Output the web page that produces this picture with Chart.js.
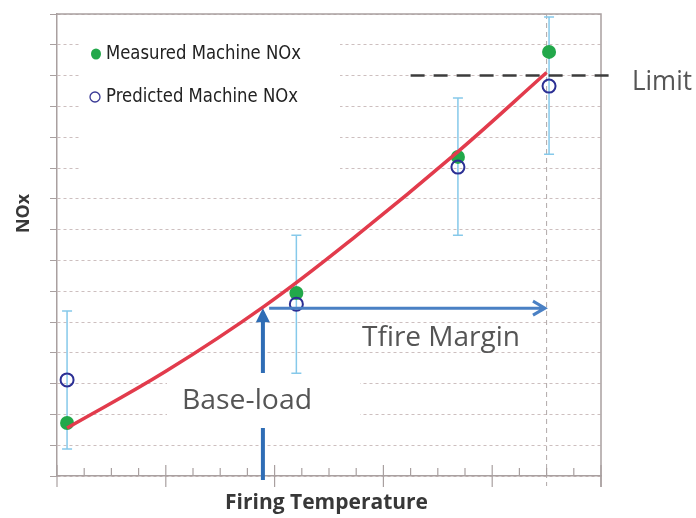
<!DOCTYPE html>
<html>
<head>
<meta charset="utf-8">
<script src="https://cdn.jsdelivr.net/npm/chart.js@4.4.1/dist/chart.umd.min.js"></script>
<style>
html, body { margin: 0; padding: 0; background: #fff; }
#wrap { width: 696px; height: 518px; }
</style>
</head>
<body>
<div id="wrap"><canvas id="myChart"></canvas></div>
<script>
// firing temperature positions (arbitrary units) of the four test points
const tempX = [0.37, 8.8, 14.74, 18.09];
const measured = [1.72, 5.94, 10.36, 13.77];
const predicted = [3.12, 5.58, 10.03, 12.66];
const errLow = [0.88, 3.34, 7.82, 10.45];
const errHigh = [5.36, 7.82, 12.27, 14.9];
// red NOx curve
const fitX = [0.37, 4, 7.6, 11, 14.7, 18];
const fitY = [1.56, 3.4, 5.5, 7.8, 10.5, 13.1];
// limit
const limitX = [13, 20.4];
const limitY = [13, 13];
const limitTemp = 18;

const textFont = '"Open Sans", "Noto Sans", sans-serif';

function pts(xs, ys) {
    return xs.map(function (x, i) { return {x: x, y: ys[i]}; });
}

// draw text left-aligned, squeezed/stretched to a given width
function fitText(ctx, text, x, y, width) {
    const w = ctx.measureText(text).width;
    ctx.save();
    ctx.translate(x, y);
    ctx.scale(width / w, 1);
    ctx.fillText(text, 0, 0);
    ctx.restore();
}

const behind = {
    id: 'behind',
    beforeDatasetsDraw(chart) {
        const ctx = chart.ctx;
        const xs = chart.scales.x, ys = chart.scales.y;
        const a = chart.chartArea;
        ctx.save();
        // white boxes under legend and base-load text
        ctx.fillStyle = '#ffffff';
        ctx.fillRect(80, 26, 260, 156);
        ctx.fillRect(167, 362, 193, 72);
        // frame top / right
        ctx.strokeStyle = '#a9a0a0';
        ctx.lineWidth = 1.5;
        ctx.beginPath();
        ctx.moveTo(a.left, a.top);
        ctx.lineTo(a.right, a.top);
        ctx.lineTo(a.right, a.bottom + 11);
        ctx.stroke();
        // limit temperature dashed vertical
        const lx = xs.getPixelForValue(limitTemp);
        ctx.strokeStyle = '#b0a8a8';
        ctx.lineWidth = 1;
        ctx.setLineDash([5, 4]);
        ctx.beginPath();
        ctx.moveTo(lx, a.top);
        ctx.lineTo(lx, a.bottom + 10);
        ctx.stroke();
        ctx.setLineDash([]);
        // error bars around predicted values
        ctx.strokeStyle = '#86c9ea';
        ctx.lineWidth = 1.5;
        for (let i = 0; i < tempX.length; i++) {
            const px = xs.getPixelForValue(tempX[i]);
            const y1 = ys.getPixelForValue(errLow[i]);
            const y2 = ys.getPixelForValue(errHigh[i]);
            ctx.beginPath();
            ctx.moveTo(px, y1); ctx.lineTo(px, y2);
            ctx.moveTo(px - 5, y1); ctx.lineTo(px + 5, y1);
            ctx.moveTo(px - 5, y2); ctx.lineTo(px + 5, y2);
            ctx.stroke();
        }
        ctx.restore();
    },
    afterDatasetsDraw(chart) {
        const ctx = chart.ctx;
        const xs = chart.scales.x, ys = chart.scales.y;
        const a = chart.chartArea;
        ctx.save();
        // x axis tick marks
        ctx.strokeStyle = '#a9a0a0';
        ctx.lineWidth = 1.2;
        for (let v = 0; v <= 20; v++) {
            const px = xs.getPixelForValue(v);
            ctx.beginPath();
            if (v % 4 === 0) {
                ctx.moveTo(px, a.bottom - 11); ctx.lineTo(px, a.bottom + 11);
            } else {
                ctx.moveTo(px, a.bottom - 8); ctx.lineTo(px, a.bottom);
            }
            ctx.stroke();
        }
        // base-load arrow
        ctx.strokeStyle = '#2f6db5';
        ctx.lineWidth = 4;
        const bx = xs.getPixelForValue(7.57);
        const tipY = ys.getPixelForValue(5.45);
        ctx.beginPath();
        ctx.moveTo(bx, a.bottom + 4); ctx.lineTo(bx, 428);
        ctx.moveTo(bx, 373); ctx.lineTo(bx, tipY + 4);
        ctx.stroke();
        ctx.fillStyle = '#2f6db5';
        ctx.beginPath();
        ctx.moveTo(bx - 7, tipY + 14);
        ctx.lineTo(bx, tipY);
        ctx.lineTo(bx + 7, tipY + 14);
        ctx.closePath();
        ctx.fill();
        // Tfire margin arrow
        ctx.strokeStyle = '#4a80c4';
        ctx.lineWidth = 3;
        const hy = ys.getPixelForValue(5.45);
        const hx1 = xs.getPixelForValue(7.8);
        const hx2 = xs.getPixelForValue(17.94);
        ctx.beginPath();
        ctx.moveTo(hx1, hy); ctx.lineTo(hx2 - 1, hy);
        ctx.moveTo(hx2 - 12, hy - 7); ctx.lineTo(hx2, hy); ctx.lineTo(hx2 - 12, hy + 7);
        ctx.stroke();
        // annotation texts
        ctx.fillStyle = '#555555';
        ctx.textBaseline = 'middle';
        ctx.textAlign = 'left';
        ctx.font = '28px ' + textFont;
        fitText(ctx, 'Base-load', 182, 401, 130);
        fitText(ctx, 'Tfire Margin', 362, 338, 158);
        fitText(ctx, 'Limit', 632, 82, 60);
        // legend
        ctx.font = '19.5px "Liberation Sans Narrow", "DejaVu Sans Condensed", sans-serif';
        ctx.fillStyle = '#222222';
        fitText(ctx, 'Measured Machine NOx', 106, 54, 195);
        fitText(ctx, 'Predicted Machine NOx', 106, 97, 192);
        ctx.fillStyle = '#22a84a';
        ctx.beginPath();
        ctx.ellipse(96, 54, 5, 5.5, 0, 0, Math.PI * 2);
        ctx.fill();
        ctx.strokeStyle = '#3a3a96';
        ctx.lineWidth = 1.3;
        ctx.beginPath();
        ctx.arc(95, 97, 5, 0, Math.PI * 2);
        ctx.stroke();
        // axis titles
        ctx.fillStyle = '#383838';
        ctx.font = 'bold 21px ' + textFont;
        fitText(ctx, 'Firing Temperature', 225, 503, 203);
        ctx.font = 'bold 18px ' + textFont;
        ctx.translate(24, 233);
        ctx.rotate(-Math.PI / 2);
        fitText(ctx, 'NOx', 0, 0, 39);
        ctx.restore();
    }
};

const ctx = document.getElementById('myChart').getContext('2d');
const myChart = new Chart(ctx, {
    type: 'scatter',
    data: {
        datasets: [{
            label: 'Predicted Machine NOx',
            data: pts(tempX, predicted),
            pointStyle: 'circle',
            pointRadius: 6.5,
            pointBorderWidth: 2,
            pointBorderColor: '#2b2f94',
            pointBackgroundColor: 'rgba(255,255,255,0)',
            order: 0
        }, {
            label: 'NOx curve',
            type: 'line',
            data: pts(fitX, fitY),
            borderColor: '#e23b4c',
            borderWidth: 3.5,
            tension: 0.4,
            pointRadius: 0,
            order: 1
        }, {
            label: 'Measured Machine NOx',
            data: pts(tempX, measured),
            pointRadius: 7,
            pointBorderWidth: 0,
            pointBackgroundColor: '#22a84a',
            order: 2
        }, {
            label: 'Limit',
            type: 'line',
            data: pts(limitX, limitY),
            borderColor: '#3c3c3c',
            borderWidth: 2.5,
            borderDash: [14, 9],
            pointRadius: 0,
            clip: false,
            order: 3
        }]
    },
    options: {
        responsive: true,
        maintainAspectRatio: false,
        animation: false,
        layout: { padding: { left: 50, top: 14, right: 95, bottom: 42 } },
        plugins: { legend: { display: false }, tooltip: { enabled: false } },
        scales: {
            x: {
                type: 'linear',
                min: 0, max: 20,
                ticks: { display: false, stepSize: 1 },
                grid: { display: false, drawTicks: false },
                border: { color: '#a9a0a0', width: 1.5 }
            },
            y: {
                min: 0, max: 15,
                ticks: { display: false, stepSize: 1 },
                grid: { color: '#cdbfbf', lineWidth: 1, tickLength: 7, tickColor: '#a9a0a0' },
                border: { color: '#a9a0a0', width: 1.5, dash: [3, 3] }
            }
        }
    },
    plugins: [behind]
});
</script>
</body>
</html>
